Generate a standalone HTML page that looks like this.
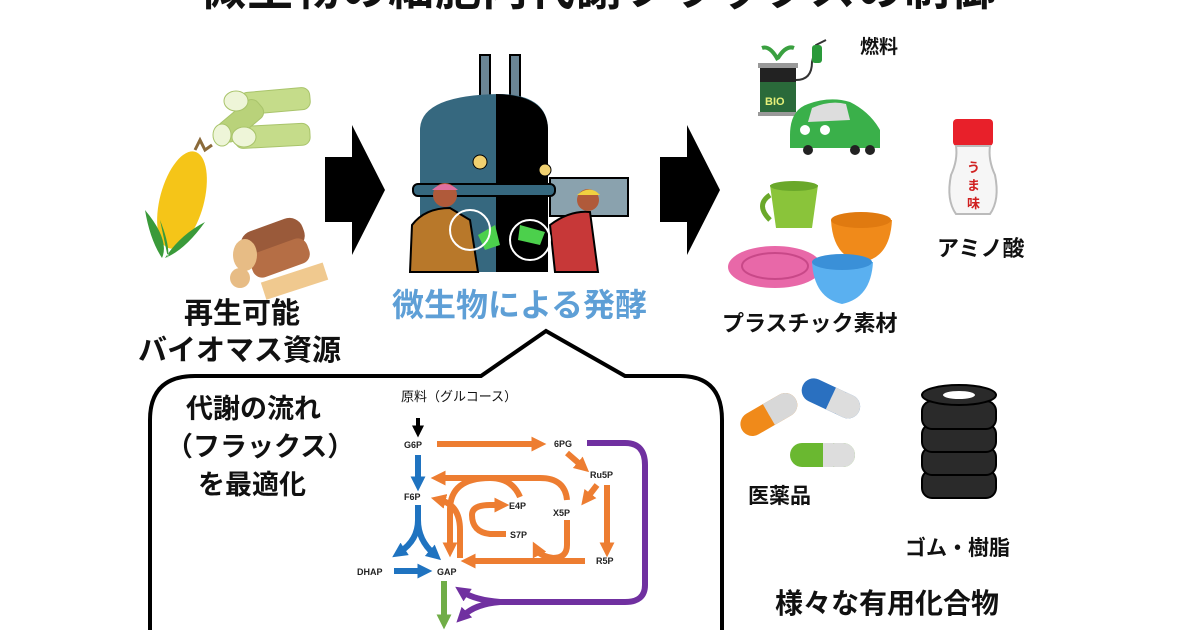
<!DOCTYPE html>
<html><head><meta charset="utf-8"><style>
html,body{margin:0;padding:0;background:#fff;}
body{width:1191px;height:630px;overflow:hidden;position:relative;font-family:"Liberation Sans","Noto Sans CJK JP",sans-serif;}
.t{position:absolute;font-weight:bold;color:#111;white-space:nowrap;line-height:1;}
</style></head><body>
<svg width="1191" height="630" viewBox="0 0 1191 630" style="position:absolute;left:0;top:0">
<defs>
<marker id="mo" viewBox="0 0 4 4" markerWidth="2.5" markerHeight="2.5" refX="1.5" refY="2" orient="auto" markerUnits="strokeWidth"><path d="M0,0 L4,2 L0,4 Z" fill="#ed7d31"/></marker>
<marker id="mb" viewBox="0 0 4 4" markerWidth="2.5" markerHeight="2.5" refX="1.5" refY="2" orient="auto" markerUnits="strokeWidth"><path d="M0,0 L4,2 L0,4 Z" fill="#1f73c0"/></marker>
<marker id="mp" viewBox="0 0 4 4" markerWidth="2.5" markerHeight="2.5" refX="1.5" refY="2" orient="auto" markerUnits="strokeWidth"><path d="M0,0 L4,2 L0,4 Z" fill="#7030a0"/></marker>
<marker id="mg" viewBox="0 0 4 4" markerWidth="2.5" markerHeight="2.5" refX="1.5" refY="2" orient="auto" markerUnits="strokeWidth"><path d="M0,0 L4,2 L0,4 Z" fill="#70ad47"/></marker>
<marker id="mk" viewBox="0 0 4 4" markerWidth="3" markerHeight="3" refX="1.5" refY="2" orient="auto" markerUnits="strokeWidth"><path d="M0,0 L4,2 L0,4 Z" fill="#000"/></marker>
</defs>
<path d="M325,157 H352 V125 L385,190 L352,255 V222 H325 Z" fill="#000"/>
<path d="M660,157 H687 V125 L720,190 L687,255 V222 H660 Z" fill="#000"/>
<path d="M150,640 V420 Q150,376 195,376 H481 L546,331 L625,376 H680 Q722,376 722,420 V640" fill="none" stroke="#000" stroke-width="4"/>
<g stroke="#a9c46b" stroke-width="1">
<rect x="240" y="90" width="70" height="22" rx="8" fill="#c5dc8a" transform="rotate(-5 275 100)"/>
<rect x="235" y="125" width="75" height="22" rx="8" fill="#c5dc8a" transform="rotate(-3 270 136)"/>
<rect x="215" y="110" width="50" height="22" rx="8" fill="#b9d27a" transform="rotate(-40 240 120)"/>
<ellipse cx="236" cy="101" rx="12" ry="10" fill="#eef5d8"/>
<ellipse cx="244" cy="137" rx="12" ry="10" fill="#eef5d8"/>
<ellipse cx="222" cy="135" rx="9" ry="11" fill="#eef5d8"/>
</g>
<ellipse cx="182" cy="200" rx="22" ry="50" fill="#f5c518" transform="rotate(15 182 200)"/>
<path d="M145,210 Q170,240 162,258 Q150,240 145,210 Z M205,222 Q180,235 165,258 Q185,250 205,222 Z M160,220 Q170,245 168,258" fill="#3a9a3a"/>
<path d="M195,150 L200,140 L205,150 L212,145" stroke="#8a6a3a" stroke-width="3" fill="none"/>
<rect x="240" y="225" width="65" height="32" rx="14" fill="#9a5a3a" transform="rotate(-20 270 240)"/>
<rect x="250" y="245" width="60" height="26" rx="10" fill="#b56e45" transform="rotate(-20 280 258)"/>
<ellipse cx="245" cy="255" rx="12" ry="16" fill="#e7bc85"/>
<ellipse cx="240" cy="278" rx="10" ry="10" fill="#e7bc85"/>
<rect x="262" y="272" width="65" height="18" fill="#f0c98f" transform="rotate(-18 295 281)"/>
<rect x="480" y="55" width="10" height="55" fill="#6a8595" stroke="#000" stroke-width="2"/>
<rect x="510" y="55" width="10" height="55" fill="#6a8595" stroke="#000" stroke-width="2"/>
<rect x="550" y="178" width="78" height="38" fill="#8aa2ae" stroke="#000" stroke-width="2"/>
<path d="M420,272 V130 Q420,95 500,94 Q548,95 548,130 V272 Z" fill="#36687f"/>
<path d="M496,94 Q548,95 548,130 V272 H496 Z" fill="#000"/>
<rect x="413" y="184" width="142" height="12" rx="5" fill="#36687f" stroke="#000" stroke-width="2"/>
<circle cx="480" cy="162" r="7" fill="#f0d070" stroke="#000"/>
<circle cx="545" cy="170" r="6" fill="#f0d070" stroke="#000"/>
<path d="M410,272 L412,225 Q425,208 450,208 L470,220 L478,272 Z" fill="#b8782a" stroke="#000" stroke-width="2"/>
<circle cx="445" cy="195" r="12" fill="#b05a3a"/><path d="M432,190 Q445,178 458,190 Z" fill="#e070a0"/>
<path d="M555,272 L550,225 Q570,210 590,212 L598,272 Z" fill="#c73838" stroke="#000" stroke-width="2"/>
<circle cx="588" cy="200" r="11" fill="#b05a3a"/><path d="M577,195 Q590,184 600,195 Z" fill="#f0d040"/>
<path d="M478,235 L495,225 L500,245 L485,250 Z" fill="#4cd04c"/>
<path d="M520,225 L545,232 L540,245 L518,240 Z" fill="#4cd04c"/>
<circle cx="470" cy="230" r="20" fill="none" stroke="#fff" stroke-width="2"/>
<circle cx="530" cy="240" r="20" fill="none" stroke="#fff" stroke-width="2"/>
<rect x="760" y="68" width="36" height="45" fill="#2a6a3a"/><rect x="760" y="68" width="36" height="14" fill="#222"/>
<rect x="758" y="63" width="40" height="5" fill="#999"/><rect x="758" y="112" width="40" height="4" fill="#999"/>
<text x="765" y="105" font-size="11" font-weight="bold" fill="#e6f07a" font-family="Liberation Sans">BIO</text>
<path d="M778,60 Q770,45 762,48 M778,58 Q786,45 794,48" stroke="#3aa040" stroke-width="4" fill="none"/>
<path d="M796,80 Q812,80 812,62 L816,45 L826,40" stroke="#333" stroke-width="2" fill="none"/>
<rect x="812" y="45" width="10" height="18" rx="3" fill="#2a9a3a"/>
<path d="M790,135 Q790,110 808,104 Q830,96 850,102 Q870,112 880,130 L880,148 L790,148 Z" fill="#3ab04a"/>
<path d="M812,108 Q830,100 846,104 L850,120 L808,122 Z" fill="#ddd"/>
<circle cx="805" cy="130" r="5" fill="#fff"/><circle cx="825" cy="130" r="5" fill="#fff"/>
<circle cx="808" cy="150" r="5" fill="#222"/><circle cx="855" cy="150" r="5" fill="#222"/><circle cx="870" cy="150" r="5" fill="#222"/>
<rect x="953" y="119" width="40" height="27" rx="4" fill="#e8202a"/>
<path d="M956,146 H990 Q988,160 995,175 Q1000,200 990,214 H956 Q946,200 951,175 Q958,160 956,146 Z" fill="#f6f6f6" stroke="#bbb" stroke-width="2"/>
<text x="967" y="172" font-size="13" font-weight="bold" fill="#d02020">う</text>
<text x="967" y="190" font-size="13" font-weight="bold" fill="#d02020">ま</text>
<text x="967" y="208" font-size="13" font-weight="bold" fill="#d02020">味</text>
<path d="M770,185 H818 L812,228 H776 Z" fill="#8ac43a"/><ellipse cx="794" cy="186" rx="24" ry="5" fill="#6aa82a"/>
<path d="M770,195 Q755,205 770,220" stroke="#6aa82a" stroke-width="5" fill="none"/>
<path d="M831,220 H892 Q890,258 862,262 Q833,258 831,220 Z" fill="#f08a1a"/><ellipse cx="861" cy="220" rx="30" ry="8" fill="#e07a10"/>
<ellipse cx="775" cy="267" rx="47" ry="21" fill="#e868a8"/><ellipse cx="775" cy="266" rx="33" ry="13" fill="none" stroke="#c84888" stroke-width="2"/>
<path d="M812,262 H873 Q871,298 842,304 Q814,298 812,262 Z" fill="#5ab0f0"/><ellipse cx="842" cy="262" rx="30" ry="8" fill="#3a90d8"/>
<g transform="rotate(-30 768 415)"><rect x="738" y="403" width="62" height="24" rx="12" fill="#f08a1a"/><rect x="769" y="403" width="31" height="24" rx="12" fill="#d8d8d8"/><rect x="769" y="403" width="10" height="24" fill="#d8d8d8"/></g>
<g transform="rotate(25 830 398)"><rect x="800" y="386" width="62" height="24" rx="12" fill="#2a70c0"/><rect x="831" y="386" width="31" height="24" rx="12" fill="#ddd"/><rect x="831" y="386" width="10" height="24" fill="#ddd"/></g>
<rect x="790" y="443" width="65" height="24" rx="12" fill="#6ab830"/><rect x="823" y="443" width="32" height="24" rx="12" fill="#ddd"/><rect x="823" y="443" width="10" height="24" fill="#ddd"/>
<g fill="#2a2a2a" stroke="#000" stroke-width="2">
<rect x="922" y="470" width="74" height="28" rx="10"/><rect x="922" y="447" width="74" height="28" rx="10"/>
<rect x="922" y="424" width="74" height="28" rx="10"/><rect x="922" y="401" width="74" height="28" rx="10"/>
<ellipse cx="959" cy="395" rx="37" ry="10"/></g>
<ellipse cx="959" cy="395" rx="16" ry="4" fill="#fff"/>
<g fill="none" stroke-width="6">
<line x1="418" y1="418" x2="418" y2="430" stroke="#000" stroke-width="4" marker-end="url(#mk)"/>
<line x1="437" y1="444" x2="537" y2="444" stroke="#ed7d31" marker-end="url(#mo)"/>
<line x1="567" y1="453" x2="582" y2="466" stroke="#ed7d31" marker-end="url(#mo)"/>
<line x1="597" y1="485" x2="587" y2="498" stroke="#ed7d31" marker-end="url(#mo)"/>
<line x1="607" y1="485" x2="607" y2="548" stroke="#ed7d31" marker-end="url(#mo)"/>
<line x1="585" y1="561" x2="470" y2="561" stroke="#ed7d31" marker-end="url(#mo)"/>
<path d="M567,520 V545 Q567,558 553,558 Q540,556 537,550" stroke="#ed7d31" marker-end="url(#mo)"/>
<path d="M567,500 Q565,478 540,478 H440" stroke="#ed7d31" marker-end="url(#mo)"/>
<path d="M520,497 Q512,478 490,478 Q450,478 450,510 V548" stroke="#ed7d31" marker-end="url(#mo)"/>
<path d="M460,558 V530 Q460,505 440,500" stroke="#ed7d31" marker-end="url(#mo)"/>
<path d="M506,534 H490 Q472,532 472,515 Q472,505 490,505 H500" stroke="#ed7d31" marker-end="url(#mo)"/>
<line x1="418" y1="455" x2="418" y2="482" stroke="#1f73c0" marker-end="url(#mb)"/>
<path d="M418,505 V520 Q418,540 400,552" stroke="#1f73c0" marker-end="url(#mb)"/>
<path d="M418,520 Q418,540 434,554" stroke="#1f73c0" marker-end="url(#mb)"/>
<line x1="394" y1="571" x2="423" y2="571" stroke="#1f73c0" marker-end="url(#mb)"/>
<line x1="444" y1="581" x2="444" y2="620" stroke="#70ad47" marker-end="url(#mg)"/>
<path d="M587,443 H625 Q645,443 645,465 V585 Q645,602 625,602 H500 Q475,600 463,592" stroke="#7030a0" marker-end="url(#mp)"/>
<path d="M500,602 Q475,604 463,616" stroke="#7030a0" marker-end="url(#mp)"/>
</g>
<g font-family="Liberation Sans" font-weight="bold" font-size="9" fill="#222">
<text x="404" y="448">G6P</text><text x="554" y="447">6PG</text><text x="590" y="478">Ru5P</text>
<text x="404" y="500">F6P</text><text x="509" y="509">E4P</text><text x="553" y="516">X5P</text>
<text x="510" y="538">S7P</text><text x="596" y="564">R5P</text><text x="357" y="575">DHAP</text><text x="437" y="575">GAP</text>
</g>
</svg>
<div class="t" style="left:200px;top:-34px;font-size:46px;letter-spacing:1px;">微生物の細胞内代謝フラックスの制御</div>
<div class="t" style="left:184px;top:300px;font-size:29px;">再生可能</div>
<div class="t" style="left:138px;top:337px;font-size:29px;">バイオマス資源</div>
<div class="t" style="left:392px;top:289px;font-size:32px;color:#5e9fd6;">微生物による発酵</div>
<div class="t" style="left:186px;top:396px;font-size:27px;">代謝の流れ</div>
<div class="t" style="left:166px;top:434px;font-size:27px;">（フラックス）</div>
<div class="t" style="left:198px;top:472px;font-size:27px;">を最適化</div>
<div class="t" style="left:401px;top:390px;font-size:13px;font-weight:normal;">原料（グルコース）</div>
<div class="t" style="left:860px;top:38px;font-size:19px;">燃料</div>
<div class="t" style="left:937px;top:238px;font-size:22px;">アミノ酸</div>
<div class="t" style="left:722px;top:313px;font-size:22px;">プラスチック素材</div>
<div class="t" style="left:748px;top:486px;font-size:21px;">医薬品</div>
<div class="t" style="left:905px;top:538px;font-size:21px;">ゴム・樹脂</div>
<div class="t" style="left:775px;top:590px;font-size:28px;">様々な有用化合物</div>
</body></html>
